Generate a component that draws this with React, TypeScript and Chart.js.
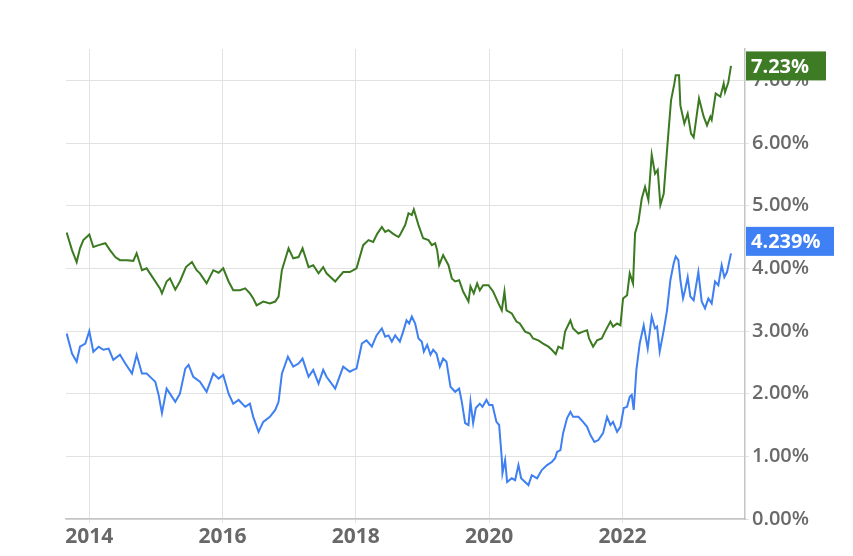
import React, { useEffect, useRef } from "react";
import { Chart, registerables } from "chart.js";

Chart.register(...registerables);

// 30-year mortgage rate (green): decimal year, percent
const mortgageDates = [
  2013.66, 2013.74, 2013.81, 2013.86, 2013.91, 2014.0, 2014.06, 2014.14, 2014.24, 2014.31,
  2014.39, 2014.46, 2014.56, 2014.66, 2014.71, 2014.79, 2014.86, 2014.96, 2015.06, 2015.09,
  2015.16, 2015.21, 2015.29, 2015.36, 2015.45, 2015.54, 2015.61, 2015.66, 2015.76, 2015.86,
  2015.94, 2016.01, 2016.09, 2016.16, 2016.26, 2016.34, 2016.41, 2016.46, 2016.51, 2016.61,
  2016.71, 2016.79, 2016.84, 2016.89, 2016.99, 2017.06, 2017.14, 2017.2, 2017.29, 2017.36,
  2017.44, 2017.51, 2017.56, 2017.69, 2017.81, 2017.91,
  2018.01, 2018.11, 2018.19, 2018.26, 2018.32, 2018.39, 2018.44, 2018.49, 2018.56, 2018.64,
  2018.66, 2018.74, 2018.79, 2018.84, 2018.87, 2018.94, 2019.01, 2019.09, 2019.14, 2019.19,
  2019.22, 2019.25, 2019.31, 2019.39, 2019.44, 2019.49, 2019.55, 2019.61, 2019.69, 2019.72,
  2019.77, 2019.82, 2019.86, 2019.91, 2019.99, 2020.06, 2020.14, 2020.19, 2020.23, 2020.26,
  2020.34, 2020.41, 2020.46, 2020.54, 2020.61, 2020.66, 2020.74, 2020.81, 2020.89, 2020.94,
  2021.0, 2021.04, 2021.1, 2021.14, 2021.22, 2021.26, 2021.34, 2021.41, 2021.47, 2021.5,
  2021.56, 2021.62, 2021.69, 2021.74, 2021.82, 2021.86, 2021.92, 2021.97, 2022.01, 2022.07,
  2022.11, 2022.16,
  2022.19, 2022.24, 2022.29, 2022.34, 2022.39, 2022.44, 2022.49, 2022.53, 2022.57, 2022.62,
  2022.67, 2022.73, 2022.78, 2022.8, 2022.85, 2022.87, 2022.93, 2022.98, 2023.03, 2023.07,
  2023.15, 2023.22, 2023.27, 2023.32, 2023.34, 2023.4, 2023.47, 2023.52, 2023.54, 2023.59,
  2023.63,
];
const mortgageValues = [
  4.57, 4.29, 4.1, 4.32, 4.45, 4.54, 4.34, 4.37, 4.4, 4.29,
  4.18, 4.13, 4.13, 4.12, 4.24, 3.97, 4.0, 3.84, 3.68, 3.6,
  3.79, 3.84, 3.66, 3.79, 4.02, 4.1, 3.97, 3.92, 3.76, 3.97,
  3.93, 4.0, 3.79, 3.65, 3.65, 3.68, 3.6, 3.52, 3.41, 3.47,
  3.44, 3.47, 3.55, 3.97, 4.32, 4.16, 4.18, 4.32, 4.02, 4.05,
  3.92, 4.02, 3.92, 3.79, 3.94, 3.94,
  4.0, 4.37, 4.45, 4.42, 4.55, 4.66, 4.58, 4.61, 4.55, 4.5,
  4.53, 4.69, 4.88, 4.85, 4.94, 4.69, 4.48, 4.45, 4.37, 4.4,
  4.29, 4.05, 4.21, 4.05, 3.84, 3.79, 3.81, 3.63, 3.47, 3.71,
  3.6, 3.76, 3.65, 3.73, 3.73, 3.63, 3.44, 3.33, 3.63, 3.33,
  3.28, 3.15, 3.12, 2.99, 2.96, 2.88, 2.85, 2.8, 2.75, 2.7,
  2.63, 2.75, 2.72, 2.99, 3.17, 3.04, 2.96, 2.99, 3.01, 2.88,
  2.75, 2.85, 2.88, 2.99, 3.15, 3.07, 3.12, 3.09, 3.52, 3.57,
  3.92, 3.76,
  4.56, 4.74, 5.11, 5.3, 5.09, 5.81, 5.51, 5.57, 5.01, 5.19,
  5.89, 6.68, 6.95, 7.08, 7.08, 6.6, 6.31, 6.47, 6.15, 6.09,
  6.71, 6.42, 6.28, 6.42, 6.37, 6.79, 6.74, 6.95, 6.81, 6.97,
  7.23,
];

// 10-year Treasury yield (blue): decimal year, percent
const treasuryDates = [
  2013.66, 2013.74, 2013.81, 2013.86, 2013.94, 2014.0, 2014.06, 2014.14, 2014.21, 2014.29,
  2014.36, 2014.46, 2014.54, 2014.64, 2014.71, 2014.79, 2014.86, 2014.94, 2014.99, 2015.04,
  2015.09, 2015.16, 2015.21, 2015.29, 2015.36, 2015.44, 2015.49, 2015.56, 2015.66, 2015.76,
  2015.86, 2015.94, 2016.01, 2016.09, 2016.16, 2016.24, 2016.34, 2016.41, 2016.46, 2016.54,
  2016.61, 2016.71, 2016.79, 2016.84, 2016.89, 2016.98, 2017.06, 2017.14, 2017.2, 2017.29,
  2017.36, 2017.44, 2017.51, 2017.56, 2017.69, 2017.81, 2017.91,
  2017.96, 2018.01, 2018.09, 2018.16, 2018.24, 2018.31, 2018.39, 2018.44, 2018.49, 2018.54,
  2018.59, 2018.66, 2018.71, 2018.76, 2018.8, 2018.84, 2018.89, 2018.94, 2018.99, 2019.02,
  2019.07, 2019.12, 2019.16, 2019.21, 2019.26, 2019.31, 2019.36, 2019.42, 2019.49, 2019.55,
  2019.59, 2019.64, 2019.69, 2019.72, 2019.76, 2019.8, 2019.86, 2019.9, 2019.96, 2020.0,
  2020.05, 2020.11, 2020.15, 2020.19, 2020.2, 2020.24, 2020.27, 2020.34, 2020.39, 2020.44,
  2020.48, 2020.54, 2020.59, 2020.64, 2020.72, 2020.79, 2020.87, 2020.94, 2020.99, 2021.02,
  2021.07, 2021.11, 2021.17, 2021.22, 2021.26, 2021.34, 2021.41, 2021.47, 2021.52, 2021.58,
  2021.64, 2021.71, 2021.77, 2021.82, 2021.86, 2021.92, 2021.97, 2022.02, 2022.07, 2022.11,
  2022.14, 2022.17,
  2022.21, 2022.26, 2022.32, 2022.38,
  2022.44, 2022.49, 2022.52, 2022.56, 2022.62, 2022.67, 2022.72, 2022.77, 2022.8, 2022.84,
  2022.87, 2022.91, 2022.94, 2022.98, 2023.02, 2023.07, 2023.14, 2023.19, 2023.24, 2023.29,
  2023.34, 2023.39, 2023.44, 2023.49, 2023.53, 2023.57, 2023.63,
];
const treasuryValues = [
  2.96, 2.64, 2.51, 2.75, 2.8, 3.0, 2.67, 2.75, 2.7, 2.72,
  2.54, 2.62, 2.48, 2.32, 2.62, 2.32, 2.32, 2.24, 2.19, 1.98,
  1.69, 2.08, 2.0, 1.87, 2.0, 2.4, 2.46, 2.27, 2.19, 2.03,
  2.32, 2.24, 2.3, 2.0, 1.84, 1.9, 1.79, 1.84, 1.63, 1.39,
  1.55, 1.63, 1.74, 1.87, 2.32, 2.59, 2.43, 2.48, 2.56, 2.27,
  2.38, 2.16, 2.38, 2.27, 2.08, 2.43, 2.35,
  2.38, 2.4, 2.8, 2.85, 2.75, 2.93, 3.04, 2.91, 2.93, 2.83,
  2.93, 2.83, 2.99, 3.17, 3.12, 3.23, 3.12, 2.88, 2.83, 2.67,
  2.78, 2.62, 2.7, 2.64, 2.43, 2.56, 2.51, 2.11, 2.03, 2.08,
  1.87, 1.53, 1.5, 1.87, 1.53, 1.77, 1.84, 1.79, 1.9, 1.82,
  1.82, 1.55, 1.5, 0.97, 0.73, 0.94, 0.59, 0.65, 0.62, 0.86,
  0.65, 0.59, 0.54, 0.7, 0.65, 0.78, 0.86, 0.91, 0.97, 1.07,
  1.1, 1.37, 1.61, 1.71, 1.63, 1.63, 1.55, 1.47, 1.34, 1.23,
  1.26, 1.37, 1.63, 1.5, 1.55, 1.39, 1.47, 1.77, 1.79, 1.95,
  1.98, 1.74,
  2.38, 2.8, 3.09, 2.72,
  3.23, 3.04, 3.07, 2.67, 3.01, 3.33, 3.81, 4.08, 4.19, 4.13,
  3.81, 3.52, 3.65, 3.86, 3.55, 3.49, 3.94, 3.47, 3.36, 3.52,
  3.44, 3.79, 3.73, 4.05, 3.86, 3.94, 4.239,
];

const xTickValues = [2014, 2016, 2018, 2020, 2022];
const yTickValues = [0, 1, 2, 3, 4, 5, 6, 7];
const lastLabels = ["7.23%", "4.239%"];

const GREEN = "#3b7a21";
const BLUE = "#3e7ff2";

const lastValuePlugin = {
  id: "lastValue",
  afterDraw(chart: any) {
    const { ctx, chartArea } = chart;
    const yScale = chart.scales.y;
    const specs = [
      { ds: 0, text: lastLabels[0], color: "#3e7b25", width: 80, offset: 0 },
      { ds: 1, text: lastLabels[1], color: "#3f80f5", width: 88, offset: -12 },
    ];
    ctx.save();
    specs.forEach((s) => {
      const data = chart.data.datasets[s.ds].data;
      const last = data[data.length - 1];
      const yc = yScale.getPixelForValue(last.y) + s.offset;
      const h = 29;
      const x0 = chartArea.right + 1;
      ctx.fillStyle = s.color;
      ctx.fillRect(x0, yc - h / 2, s.width, h);
      ctx.fillStyle = "#ffffff";
      ctx.font = "bold 20px 'Open Sans', sans-serif";
      ctx.textBaseline = "middle";
      ctx.textAlign = "left";
      ctx.fillText(s.text, x0 + 5, yc + 1);
    });
    ctx.restore();
  },
};

export default function App() {
  const ref = useRef<HTMLCanvasElement | null>(null);

  useEffect(() => {
    if (!ref.current) return;
    const chart = new Chart(ref.current, {
      type: "line",
      data: {
        datasets: [
          {
            label: "30-Year Mortgage Rate",
            data: mortgageDates.map((d, i) => ({ x: d, y: mortgageValues[i] })),
            borderColor: GREEN,
            borderWidth: 2,
            pointRadius: 0,
            tension: 0,
            fill: false,
          },
          {
            label: "10-Year Treasury Rate",
            data: treasuryDates.map((d, i) => ({ x: d, y: treasuryValues[i] })),
            borderColor: BLUE,
            borderWidth: 2,
            pointRadius: 0,
            tension: 0,
            fill: false,
          },
        ],
      },
      options: {
        animation: false,
        responsive: false,
        maintainAspectRatio: false,
        layout: { padding: { left: 66, top: 49, right: 0, bottom: 0 } },
        plugins: {
          legend: { display: false },
          tooltip: { enabled: false },
        },
        scales: {
          x: {
            type: "linear",
            min: 2013.65,
            max: 2023.84,
            afterBuildTicks: (scale: any) => {
              scale.ticks = xTickValues.map((v) => ({ value: v }));
            },
            afterFit: (scale: any) => {
              scale.height = 37;
            },
            grid: {
              color: "#e2e2e2",
              lineWidth: 1,
              tickLength: 4,
              drawTicks: true,
            },
            border: { display: true, color: "#c4c4c4", width: 1.5 },
            ticks: {
              color: "#686868",
              font: { family: "'Open Sans', sans-serif", size: 21, weight: "bold" },
              padding: 1,
              maxRotation: 0,
              autoSkip: false,
              callback: (v: any) => String(v),
            },
          },
          y: {
            position: "right",
            min: 0,
            max: 7.5,
            afterBuildTicks: (scale: any) => {
              scale.ticks = yTickValues.map((v) => ({ value: v }));
            },
            afterFit: (scale: any) => {
              scale.width = 108;
            },
            grid: {
              color: "#e2e2e2",
              lineWidth: 1,
              tickLength: 4,
            },
            border: { display: true, color: "#c4c4c4", width: 1.5 },
            ticks: {
              color: "#6a6a6a",
              font: { family: "'Open Sans', sans-serif", size: 20, weight: "600" },
              padding: 3,
              callback: (v: any) => Number(v).toFixed(2) + "%",
            },
          },
        },
      },
      plugins: [lastValuePlugin],
    });
    return () => chart.destroy();
  }, []);

  return (
    <div style={{ position: "fixed", left: 0, top: 0, width: 853, height: 556, background: "#fff" }}>
      <canvas ref={ref} width={853} height={556} />
    </div>
  );
}
